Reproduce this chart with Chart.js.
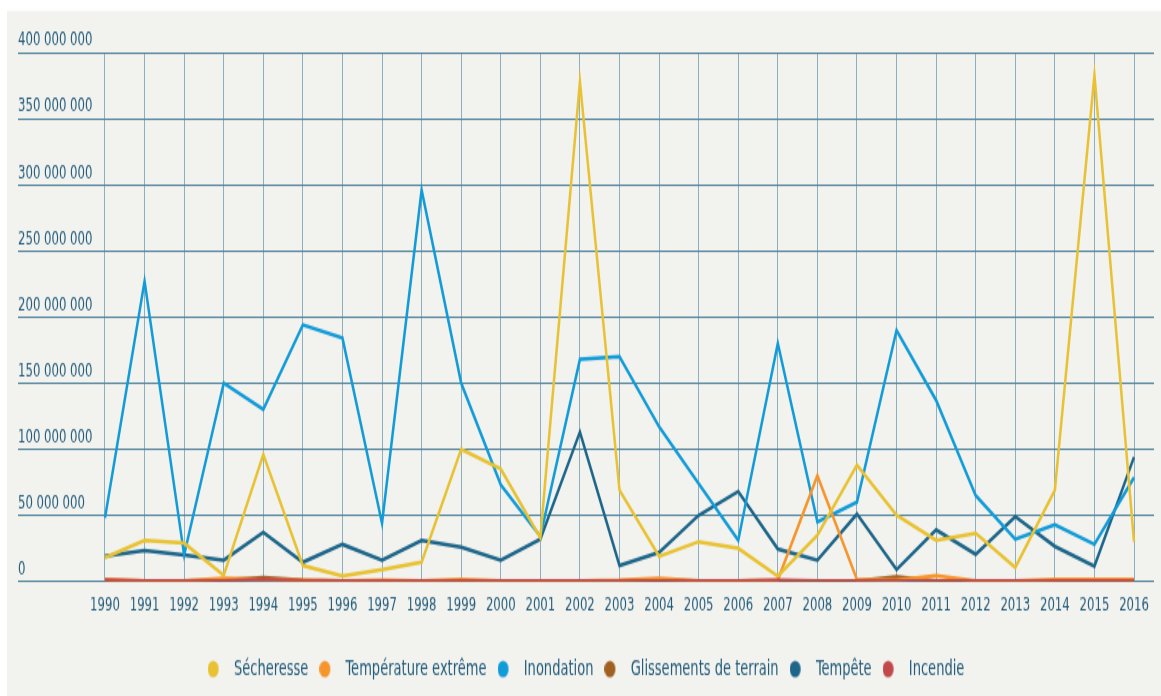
<!DOCTYPE html>
<html>
<head>
<meta charset="utf-8">
<script src="https://cdn.jsdelivr.net/npm/chart.js@4"></script>
<style>
    body { margin: 0; background: #ffffff; }
    canvas { display: block; }
</style>
</head>
<body>
<canvas id="myLineChart" width="1161" height="464" style="width:1161px;height:696px"></canvas>
<script>
var years = [1990, 1991, 1992, 1993, 1994, 1995, 1996, 1997, 1998, 1999, 2000, 2001, 2002, 2003,
    2004, 2005, 2006, 2007, 2008, 2009, 2010, 2011, 2012, 2013, 2014, 2015, 2016];

var yTicks = [0, 50000000, 100000000, 150000000, 200000000, 250000000, 300000000, 350000000, 400000000];

// valeurs en millions
var secheresse = [18, 31, 29, 4.5, 96, 12, 4, 9, 14.5, 100, 85, 33, 378, 69, 19, 30, 25, 4, 35, 88, 50, 31, 36.5, 10.5, 69, 383, 30];
var temperature = [1.5, 0.5, 0.5, 2.5, 1.5, 1, 0.5, 1, 0.5, 1.5, 0.5, 0.3, 0.5, 1, 2.5, 0.5, 0.5, 1, 80, 1.5, 1, 4.5, 0.5, 0.5, 1.5, 1.5, 1.5];
var inondation = [48, 227, 20, 150, 130, 194, 184, 44, 296, 150, 73, 34, 168, 170, 117, 74, 31, 180, 45, 60, 190, 137, 65, 32, 43, 28, 78.5];
var glissements = [0.5, 0.3, 0.3, 1, 3, 1, 0.5, 0.3, 0.3, 0.5, 0.3, 0.3, 0.3, 0.5, 1, 0.3, 0.3, 0.5, 0.3, 0.5, 3.5, 0.5, 0.3, 0.3, 0.5, 0.5, 0.5];
var tempete = [19, 23.5, 20, 16, 37, 14.5, 28, 16, 31, 26, 16, 32, 113, 12, 22, 50, 68, 24.5, 16, 51, 9, 39, 20.5, 49, 26.5, 11.5, 94];
var incendie = [1, 0.5, 0.3, 0.5, 1.5, 0.5, 0.3, 0.5, 0.3, 0.3, 0.3, 0.3, 0.3, 0.3, 0.3, 0.3, 0.3, 1, 0.5, 0.3, 0.5, 0.3, 0.3, 0.3, 0.3, 0.3, 0.3];

var textColor = '#245d7c';
var fontFamily = '"Liberation Sans Narrow", "DejaVu Sans Condensed", "Arial Narrow", sans-serif';

function toPoints(values) {
    var points = [];
    for (var i = 0; i < years.length; i++) {
        points.push({ x: years[i], y: values[i] * 1000000 });
    }
    return points;
}

// pastille de légende : rond à gauche, marge transparente à droite
function legendDot(color) {
    var c = document.createElement('canvas');
    c.width = 19;
    c.height = 12;
    var g = c.getContext('2d');
    g.fillStyle = color;
    g.beginPath();
    g.arc(5.5, 6, 5.5, 0, Math.PI * 2);
    g.fill();
    return c;
}

function makeDataset(label, values, color, order) {
    return {
        label: label,
        data: toPoints(values),
        order: order,
        borderColor: color,
        backgroundColor: color,
        borderWidth: 2.5,
        pointRadius: 0,
        pointHoverRadius: 0,
        pointStyle: legendDot(color),
        tension: 0,
        fill: false
    };
}

var panelBackground = {
    id: 'panelBackground',
    beforeDraw: function(chart) {
        var ctx = chart.ctx;
        ctx.save();
        ctx.fillStyle = '#f2f2ee';
        ctx.fillRect(7, 7.3, chart.width - 7, chart.height - 7.3);
        ctx.restore();
    }
};

var ctx = document.getElementById('myLineChart').getContext('2d');
var myChart = new Chart(ctx, {
    type: 'line',
    data: {
        datasets: [
            makeDataset('Sécheresse', secheresse, '#e8c232', 1),
            makeDataset('Température extrême', temperature, '#f7952b', 1),
            makeDataset('Inondation', inondation, '#119bd8', 1),
            makeDataset('Glissements de terrain', glissements, '#a0601f', 1),
            makeDataset('Tempête', tempete, '#1d668a', 1),
            makeDataset('Incendie', incendie, '#c2484a', 0)   // au premier plan
        ]
    },
    options: {
        responsive: false,
        animation: false,
        devicePixelRatio: 1,
        layout: {
            padding: { left: 18, right: 7, top: 35, bottom: 0.7 }
        },
        scales: {
            x: {
                type: 'linear',
                min: 1987.802,
                max: 2016.505,
                afterBuildTicks: function(scale) {
                    scale.ticks = years.map(function(y) { return { value: y }; });
                },
                afterFit: function(scale) { scale.height += 8.6; },
                grid: { color: '#8eafbf', lineWidth: 1, drawTicks: false },
                border: { display: false },
                ticks: {
                    autoSkip: false,
                    maxRotation: 0,
                    padding: 8,
                    color: textColor,
                    font: { family: fontFamily, size: 13 },
                    callback: function(value) { return String(value); }
                }
            },
            y: {
                min: 0,
                max: 400000000,
                afterBuildTicks: function(scale) {
                    scale.ticks = yTicks.map(function(v) { return { value: v }; });
                },
                afterFit: function(scale) { scale.width = 0; },
                grid: { color: '#52839b', lineWidth: 1, drawTicks: false },
                border: { display: false },
                ticks: {
                    mirror: true,
                    padding: 0,
                    labelOffset: -8,
                    color: textColor,
                    font: { family: fontFamily, size: 13 },
                    callback: function(value) {
                        return String(value).replace(/\B(?=(\d{3})+(?!\d))/g, ' ');
                    }
                }
            }
        },
        plugins: {
            legend: {
                position: 'bottom',
                labels: {
                    usePointStyle: true,
                    pointStyleWidth: 19,
                    boxHeight: 12,
                    padding: 11,
                    color: textColor,
                    font: { family: fontFamily, size: 14.5 },
                    sort: function(a, b) { return a.datasetIndex - b.datasetIndex; }
                }
            },
            tooltip: { enabled: false }
        }
    },
    plugins: [panelBackground]
});
</script>
</body>
</html>
